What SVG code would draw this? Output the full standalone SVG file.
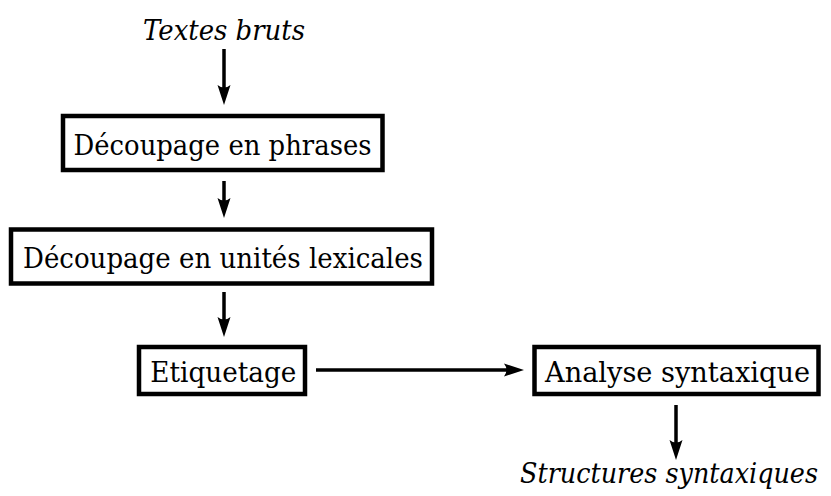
<svg xmlns="http://www.w3.org/2000/svg" width="831" height="496" viewBox="0 0 831 496">
<style>
.box{fill:#fff;stroke:#000;stroke-width:4.5}
.t{font-family:'DejaVu Serif','Liberation Serif',serif;font-size:27px;fill:#000;text-anchor:middle}
.it{font-style:italic}
.c{stroke:#000;stroke-width:3.5;fill:none;marker-end:url(#ah)}
</style>
<defs>
<marker id="ah" markerUnits="userSpaceOnUse" viewBox="-20 -8 32 16" refX="0" refY="0" markerWidth="32" markerHeight="16" orient="auto" overflow="visible">
<path d="M11,0 L-9,-6.5 Q-4,0 -9,6.5 Z" fill="#000"/>
</marker>
</defs>
<g id="connectors">
<line class="c" x1="224" y1="49" x2="224" y2="94"/>
<line class="c" x1="224" y1="181" x2="224" y2="207"/>
<line class="c" x1="224" y1="292" x2="224" y2="326"/>
<line class="c" x1="316" y1="370" x2="513" y2="370"/>
<line class="c" x1="676" y1="405" x2="676" y2="449"/>
</g>
<g id="textes-bruts"><text class="t it" x="224" y="40" textLength="162" lengthAdjust="spacingAndGlyphs">Textes bruts</text></g>
<g id="decoupage-phrases">
<rect class="box" x="63" y="116" width="319.5" height="54"/>
<text class="t" x="222.5" y="155" textLength="298" lengthAdjust="spacingAndGlyphs">Découpage en phrases</text>
</g>
<g id="decoupage-unites">
<rect class="box" x="11" y="229.5" width="421" height="54"/>
<text class="t" x="223" y="268" textLength="400" lengthAdjust="spacingAndGlyphs">Découpage en unités lexicales</text>
</g>
<g id="etiquetage">
<rect class="box" x="139" y="347" width="166" height="47"/>
<text class="t" x="223.3" y="382" textLength="146" lengthAdjust="spacingAndGlyphs">Etiquetage</text>
</g>
<g id="analyse">
<rect class="box" x="534.5" y="347" width="284" height="47"/>
<text class="t" x="677.5" y="382" textLength="265" lengthAdjust="spacingAndGlyphs">Analyse syntaxique</text>
</g>
<g id="structures"><text class="t it" x="669" y="483" font-size="23.5" textLength="298" lengthAdjust="spacingAndGlyphs">Structures syntaxiques</text></g>
</svg>
